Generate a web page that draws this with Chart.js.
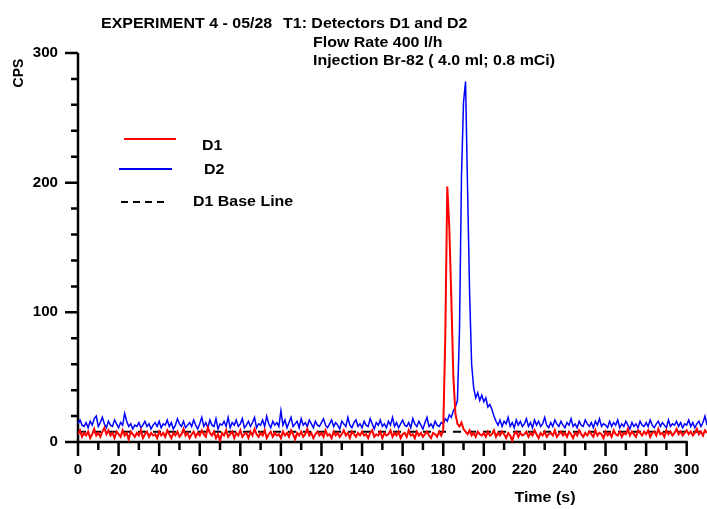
<!DOCTYPE html>
<html>
<head>
<meta charset="utf-8">
<script src="https://cdn.jsdelivr.net/npm/chart.js@4/dist/chart.umd.min.js"></script>
<style>
  html, body { margin: 0; padding: 0; background: #fff; }
  #wrap { width: 707px; height: 509px; }
</style>
</head>
<body>
<div id="wrap"><canvas id="myChart" width="707" height="509"></canvas></div>
<script>
// Count rates, one value per second from t = 0 to 310 s
const d1Cps = [
    6, 9, 4, 7, 5, 8, 3, 6, 10, 5, 7, 4, 8, 11, 6, 9, 5, 7, 3, 8,
    6, 4, 9, 5, 7, 2, 8, 6, 4, 7, 5, 9, 3, 6, 8, 4, 7, 5, 6, 3,
    8, 5, 7, 4, 9, 6, 3, 7, 5, 8, 4, 6, 10, 5, 7, 3, 6, 8, 4, 7,
    5, 9, 6, 4, 11, 7, 5, 8, 3, 6, 1, 7, 5, 9, 4, 6, 8, 3, 7, 5,
    9, 4, 6, 7, 3, 8, 5, 10, 6, 4, 7, 5, 9, 3, 6, 8, 4, 7, 5, 6,
    3, 8, 5, 7, 4, 9, 6, 2, 7, 5, 8, 4, 6, 10, 5, 7, 3, 6, 8, 5,
    7, 4, 9, 5, 6, 3, 8, 5, 7, 4, 6, 9, 5, 7, 3, 8, 6, 4, 7, 5,
    8, 5, 6, 3, 7, 9, 4, 6, 5, 8, 3, 7, 5, 6, 9, 4, 7, 5, 8, 3,
    6, 7, 4, 9, 5, 6, 3, 8, 5, 7, 4, 6, 8, 5, 3, 7, 6, 4, 8, 5,
    9, 80, 197, 165, 110, 50, 22, 14, 12, 15, 10, 8, 6, 9, 5, 7, 4, 8, 6, 5,
    7, 4, 8, 5, 6, 9, 4, 7, 5, 8, 6, 3, 7, 5, 1, 6, 8, 4, 7, 5,
    6, 8, 4, 7, 5, 9, 6, 3, 7, 5, 8, 4, 6, 7, 5, 9, 4, 6, 8, 5,
    7, 4, 8, 6, 3, 7, 5, 9, 6, 4, 7, 5, 8, 6, 4, 9, 5, 7, 6, 3,
    8, 5, 7, 4, 9, 6, 5, 8, 4, 7, 6, 10, 5, 8, 6, 4, 9, 7, 5, 8,
    6, 9, 4, 7, 8, 5, 10, 6, 7, 4, 9, 6, 8, 5, 7, 10, 6, 8, 5, 7,
    9, 6, 8, 5, 7, 10, 6, 8, 5, 9, 7
];
const d2Cps = [
    14, 17, 13, 12, 15, 11, 16, 13, 18, 20, 12, 15, 19, 14, 11, 16, 13, 12, 17, 14,
    11, 15, 13, 22, 16, 12, 14, 10, 13, 12, 15, 11, 13, 16, 12, 14, 10, 13, 15, 12,
    16, 11, 14, 13, 17, 12, 15, 10, 13, 18, 14, 12, 16, 11, 13, 15, 12, 17, 13, 10,
    14, 19, 12, 15, 11, 17, 13, 12, 18, 10, 14, 13, 16, 12, 19, 11, 15, 13, 17, 12,
    14, 18, 11, 13, 16, 12, 15, 19, 11, 14, 13, 17, 12, 20, 14, 11, 16, 13, 15, 12,
    24, 13, 17, 11, 15, 19, 12, 14, 16, 11, 18, 13, 15, 12, 17, 14, 11, 16, 13, 12,
    15, 18, 13, 11, 14, 17, 12, 15, 13, 10, 16, 14, 12, 19, 13, 11, 15, 17, 12, 14,
    11, 16, 13, 12, 18, 14, 10, 15, 13, 17, 12, 14, 11, 16, 13, 19, 12, 15, 11, 14,
    17, 13, 12, 15, 11, 18, 14, 12, 16, 13, 10, 15, 19, 12, 14, 11, 16, 13, 12, 15,
    14, 18, 16, 21, 19, 24, 27, 32, 85, 205, 262, 278, 195, 115, 60, 42, 34, 38, 32, 36,
    31, 34, 27, 29, 25, 20, 16, 13, 17, 12, 16, 14, 19, 12, 15, 11, 17, 13, 16, 12,
    14, 18, 12, 15, 11, 17, 13, 16, 12, 14, 19, 13, 11, 15, 12, 17, 14, 12, 16, 13,
    11, 15, 13, 18, 12, 14, 11, 16, 13, 12, 17, 14, 12, 15, 11, 16, 13, 18, 12, 14,
    13, 11, 16, 12, 15, 13, 17, 11, 14, 12, 16, 13, 10, 15, 12, 14, 11, 16, 13, 12,
    15, 12, 17, 13, 11, 14, 16, 12, 15, 13, 11, 17, 12, 14, 13, 16, 12, 15, 11, 14,
    13, 17, 12, 15, 11, 14, 16, 12, 15, 20, 13
];
const baseLineTime = [0, 310];
const baseLineCps = [8, 8];

const xMajorTicks = [0, 20, 40, 60, 80, 100, 120, 140, 160, 180, 200, 220, 240, 260, 280, 300];
const xMinorTicks = [10, 30, 50, 70, 90, 110, 130, 150, 170, 190, 210, 230, 250, 270, 290];
const yMajorTicks = [0, 100, 200, 300];
const yMinorTicks = [20, 40, 60, 80, 120, 140, 160, 180, 220, 240, 260, 280];

const titleHead = 'EXPERIMENT 4 - 05/28';
const titleLines = [
    'T1: Detectors D1 and D2',
    'Flow Rate 400 l/h',
    'Injection Br-82 ( 4.0 ml; 0.8 mCi)'
];

const FONT = '"Liberation Sans", Arial, sans-serif';

// the original plot uses a slightly wide face, so stretch text a bit
function wideText(ctx, text, x, y, sx) {
    ctx.save();
    ctx.translate(x, y);
    ctx.scale(sx, 1);
    ctx.fillText(text, 0, 0);
    ctx.restore();
}

// axes, ticks, labels, title and legend drawn by hand to look like the old plot
const decorPlugin = {
    id: 'decor',
    beforeDatasetsDraw(chart) {
        const ctx = chart.ctx;
        const xs = chart.scales.x;
        const ys = chart.scales.y;
        const x0 = xs.getPixelForValue(0);
        const x300 = xs.getPixelForValue(300);
        const y0 = ys.getPixelForValue(0);
        const y300 = ys.getPixelForValue(300);

        ctx.save();
        ctx.strokeStyle = '#000';
        ctx.lineWidth = 2.5;
        ctx.lineCap = 'butt';
        ctx.beginPath();
        ctx.moveTo(x0, y300);
        ctx.lineTo(x0, y0);
        ctx.moveTo(x0 - 1, y0);
        ctx.lineTo(x300 + 1, y0);
        ctx.stroke();

        ctx.beginPath();
        xMajorTicks.forEach(v => {
            const px = xs.getPixelForValue(v);
            ctx.moveTo(px, y0);
            ctx.lineTo(px, y0 + 14);
        });
        xMinorTicks.forEach(v => {
            const px = xs.getPixelForValue(v);
            ctx.moveTo(px, y0);
            ctx.lineTo(px, y0 + 8);
        });
        yMajorTicks.forEach(v => {
            const py = ys.getPixelForValue(v);
            ctx.moveTo(x0 - 13, py);
            ctx.lineTo(x0, py);
        });
        yMinorTicks.forEach(v => {
            const py = ys.getPixelForValue(v);
            ctx.moveTo(x0 - 7, py);
            ctx.lineTo(x0, py);
        });
        ctx.stroke();

        ctx.fillStyle = '#000';
        ctx.font = 'bold 14px ' + FONT;
        ctx.textAlign = 'center';
        ctx.textBaseline = 'middle';
        xMajorTicks.forEach(v => {
            wideText(ctx, String(v), xs.getPixelForValue(v), y0 + 28, 1.08);
        });
        ctx.textAlign = 'right';
        yMajorTicks.forEach(v => {
            wideText(ctx, String(v), x0 - 20, ys.getPixelForValue(v), 1.08);
        });

        // axis titles
        ctx.font = 'bold 15px ' + FONT;
        ctx.textAlign = 'center';
        wideText(ctx, 'Time (s)', 545, 498, 1.07);
        ctx.save();
        ctx.translate(19, 73);
        ctx.rotate(-Math.PI / 2);
        ctx.font = 'bold 14px ' + FONT;
        ctx.fillText('CPS', 0, 0);
        ctx.restore();

        // title block
        ctx.font = 'bold 14px ' + FONT;
        ctx.textAlign = 'left';
        ctx.textBaseline = 'alphabetic';
        wideText(ctx, titleHead, 101, 28, 1.14);
        wideText(ctx, titleLines[0], 283, 28, 1.14);
        wideText(ctx, titleLines[1], 313, 46.5, 1.14);
        wideText(ctx, titleLines[2], 313, 65, 1.14);

        // legend
        ctx.lineWidth = 2;
        ctx.strokeStyle = '#ff0000';
        ctx.beginPath(); ctx.moveTo(124, 139); ctx.lineTo(176, 139); ctx.stroke();
        ctx.strokeStyle = '#0000ff';
        ctx.beginPath(); ctx.moveTo(119, 169); ctx.lineTo(172, 169); ctx.stroke();
        ctx.strokeStyle = '#000';
        ctx.setLineDash([7, 5]);
        ctx.beginPath(); ctx.moveTo(121, 202); ctx.lineTo(167, 202); ctx.stroke();
        ctx.setLineDash([]);
        wideText(ctx, 'D1', 202, 150, 1.14);
        wideText(ctx, 'D2', 204, 174, 1.14);
        wideText(ctx, 'D1 Base Line', 193, 206, 1.14);
        ctx.restore();
    }
};

const ctx = document.getElementById('myChart').getContext('2d');
const chart = new Chart(ctx, {
    type: 'line',
    data: {
        datasets: [
            {
                label: 'D1 Base Line',
                data: baseLineTime.map((t, i) => ({ x: t, y: baseLineCps[i] })),
                borderColor: '#000',
                borderWidth: 2,
                borderDash: [8, 7],
                pointRadius: 0,
                order: 3
            },
            {
                label: 'D2',
                data: d2Cps.map((v, i) => ({ x: i, y: v })),
                borderColor: '#0000ff',
                borderWidth: 1.5,
                pointRadius: 0,
                tension: 0,
                order: 2
            },
            {
                label: 'D1',
                data: d1Cps.map((v, i) => ({ x: i, y: v })),
                borderColor: '#ff0000',
                borderWidth: 2,
                pointRadius: 0,
                tension: 0,
                order: 1
            }
        ]
    },
    options: {
        responsive: false,
        animation: false,
        layout: { padding: { top: 53, right: 0, bottom: 0, left: 0 } },
        plugins: {
            legend: { display: false },
            tooltip: { enabled: false },
            title: { display: false }
        },
        scales: {
            x: {
                type: 'linear',
                min: 0,
                max: 310,
                grid: { display: false },
                border: { display: false },
                ticks: { display: false },
                afterFit: s => { s.height = 67; }
            },
            y: {
                min: 0,
                max: 300,
                grid: { display: false },
                border: { display: false },
                ticks: { display: false },
                afterFit: s => { s.width = 78; }
            }
        }
    },
    plugins: [decorPlugin]
});
</script>
</body>
</html>
